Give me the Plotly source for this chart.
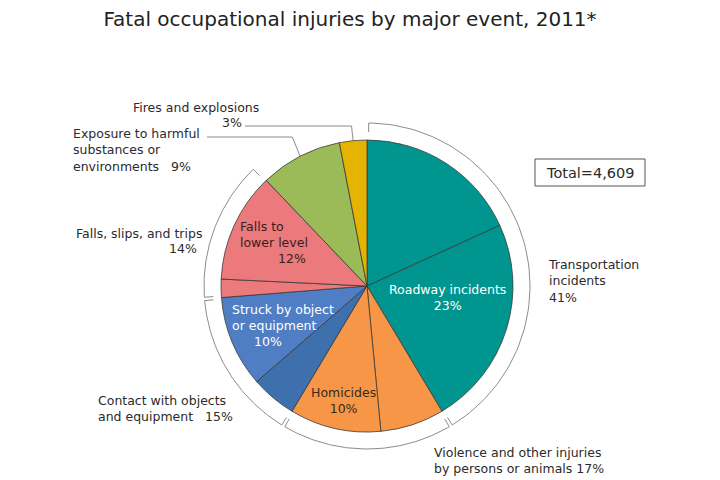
"""
Fatal occupational injuries by major event, 2011 - pie with group brackets.
"""

import math

import plotly.graph_objects as go

# page body has an 8px margin, so the figure is 712x472 and starts at (8, 8)
OFF = 8
W, H = 720 - OFF, 480 - OFF
CX, CY, R = 367, 286, 146
FONT = "DejaVu Sans"

# group level (outer brackets)
group_names = [
    "Transportation incidents",
    "Violence and other injuries by persons or animals",
    "Contact with objects and equipment",
    "Falls, slips, and trips",
    "Exposure to harmful substances or environments",
    "Fires and explosions",
]
group_pct = [41, 17, 15, 14, 9, 3]

# slice level (clockwise from 12 o'clock)
slice_labels = [
    "Other transportation",
    "Roadway incidents",
    "Other violence",
    "Homicides",
    "Other contact",
    "Struck by object or equipment",
    "Other falls",
    "Falls to lower level",
    "Exposure to harmful substances or environments",
    "Fires and explosions",
]
slice_pct = [18, 23, 7, 10, 5, 10, 2, 12, 9, 3]
slice_group = [0, 0, 1, 1, 2, 2, 3, 3, 4, 5]
slice_colors = [
    "#00968f", "#00968f",
    "#f79646", "#f79646",
    "#3d70ad", "#4f7ec4",
    "#ec7a7c", "#ec7a7c",
    "#9bbb59", "#e4b400",
]

TOTAL = "4,609"

total = float(sum(slice_pct))


def pt(angle_deg, r):
    a = math.radians(angle_deg)
    return CX + r * math.sin(a), CY - r * math.cos(a)


def px_x(x):
    return (x - OFF) / W


def px_y(y):
    return 1 - (y - OFF) / H


# group angle spans from slice values
group_span = []
acc = 0.0
for g in range(len(group_names)):
    vals = [v for v, sg in zip(slice_pct, slice_group) if sg == g]
    start = acc / total * 360
    acc += sum(vals)
    group_span.append((start, acc / total * 360))

fig = go.Figure()

# pie sized to match pixel geometry
fig.add_trace(
    go.Pie(
        labels=slice_labels,
        values=slice_pct,
        sort=False,
        direction="clockwise",
        rotation=0,
        marker=dict(colors=slice_colors, line=dict(color="#3a3a3a", width=0.8)),
        textinfo="none",
        hoverinfo="label+value",
        showlegend=False,
        domain=dict(
            x=[px_x(CX - R), px_x(CX + R)],
            y=[px_y(CY + R), px_y(CY - R)],
        ),
    )
)

# brackets around first four groups
R_OUT, R_IN, GAP = 163, 154, 0.6
for g in range(4):
    a0, a1 = group_span[g]
    a0 += GAP
    a1 -= GAP
    xs, ys = [], []
    x, y = pt(a0, R_IN)
    xs.append(x)
    ys.append(y)
    n = 80
    for i in range(n + 1):
        x, y = pt(a0 + (a1 - a0) * i / n, R_OUT)
        xs.append(x)
        ys.append(y)
    x, y = pt(a1, R_IN)
    xs.append(x)
    ys.append(y)
    fig.add_trace(
        go.Scatter(
            x=xs, y=ys, mode="lines",
            line=dict(color="#8c8c8c", width=1),
            hoverinfo="skip", showlegend=False,
        )
    )

# leader lines for the two small groups
leader_x = {4: 207, 5: 245}
leader_y = {4: 137, 5: 126}
for g in (4, 5):
    mid = sum(group_span[g]) / 2
    ex, ey = pt(mid, R)
    bx, _ = pt(mid, R_OUT)
    fig.add_trace(
        go.Scatter(
            x=[leader_x[g], bx, ex], y=[leader_y[g], leader_y[g], ey],
            mode="lines", line=dict(color="#8c8c8c", width=1),
            hoverinfo="skip", showlegend=False,
        )
    )

DARK = "#2b2b2b"


def note(x, y, text, anchor="left", color=DARK, size=12.5, align=None):
    fig.add_annotation(
        x=x, y=y, xref="x", yref="y", text=text, showarrow=False,
        xanchor=anchor, yanchor="middle", align=align or anchor,
        font=dict(family=FONT, size=size, color=color),
    )


# outer labels
note(261, 107, "Fires and explosions", "right")
note(244, 122, "3%", "right")
note(71, 150, "Exposure to harmful<br>substances or<br>environments   9%", "left")
note(204, 233, "Falls, slips, and trips", "right")
note(199, 248, "14%", "right")
note(96, 408, "Contact with objects<br>and equipment   15%", "left")
note(546, 281, "Transportation<br>incidents<br>41%", "left")
note(432, 460, "Violence and other injuries<br>by persons or animals 17%", "left")

# inside labels
note(447, 297, "Roadway incidents<br>23%", "center", color="white")
note(230, 317, "Struck by object<br>or equipment", "left", color="white")
note(268, 341, "10%", "center", color="white")
note(343, 400, "Homicides<br>10%", "center", color="#3a2a18")
note(238, 234, "Falls to<br>lower level", "left", color="#3a2020")
note(308, 258, "12%", "right", color="#3a2020")

# total box
fig.add_shape(
    type="rect", xref="x", yref="y", x0=535, x1=645, y0=159, y1=186,
    line=dict(color="#555555", width=1), fillcolor="white",
)
note(590, 172.5, f"Total={TOTAL}", "center", size=14.5)

fig.update_layout(
    width=W,
    height=H,
    margin=dict(l=0, r=0, t=0, b=0),
    paper_bgcolor="white",
    plot_bgcolor="white",
    title=dict(
        text="Fatal occupational injuries by major event, 2011*",
        x=px_x(350), xanchor="center", y=px_y(19), yanchor="middle",
        font=dict(family=FONT, size=20, color="#222222"),
    ),
    xaxis=dict(range=[OFF, 720], visible=False, domain=[0, 1], fixedrange=True),
    yaxis=dict(range=[480, OFF], visible=False, domain=[0, 1], fixedrange=True),
)

fig.write_html("out.html")
